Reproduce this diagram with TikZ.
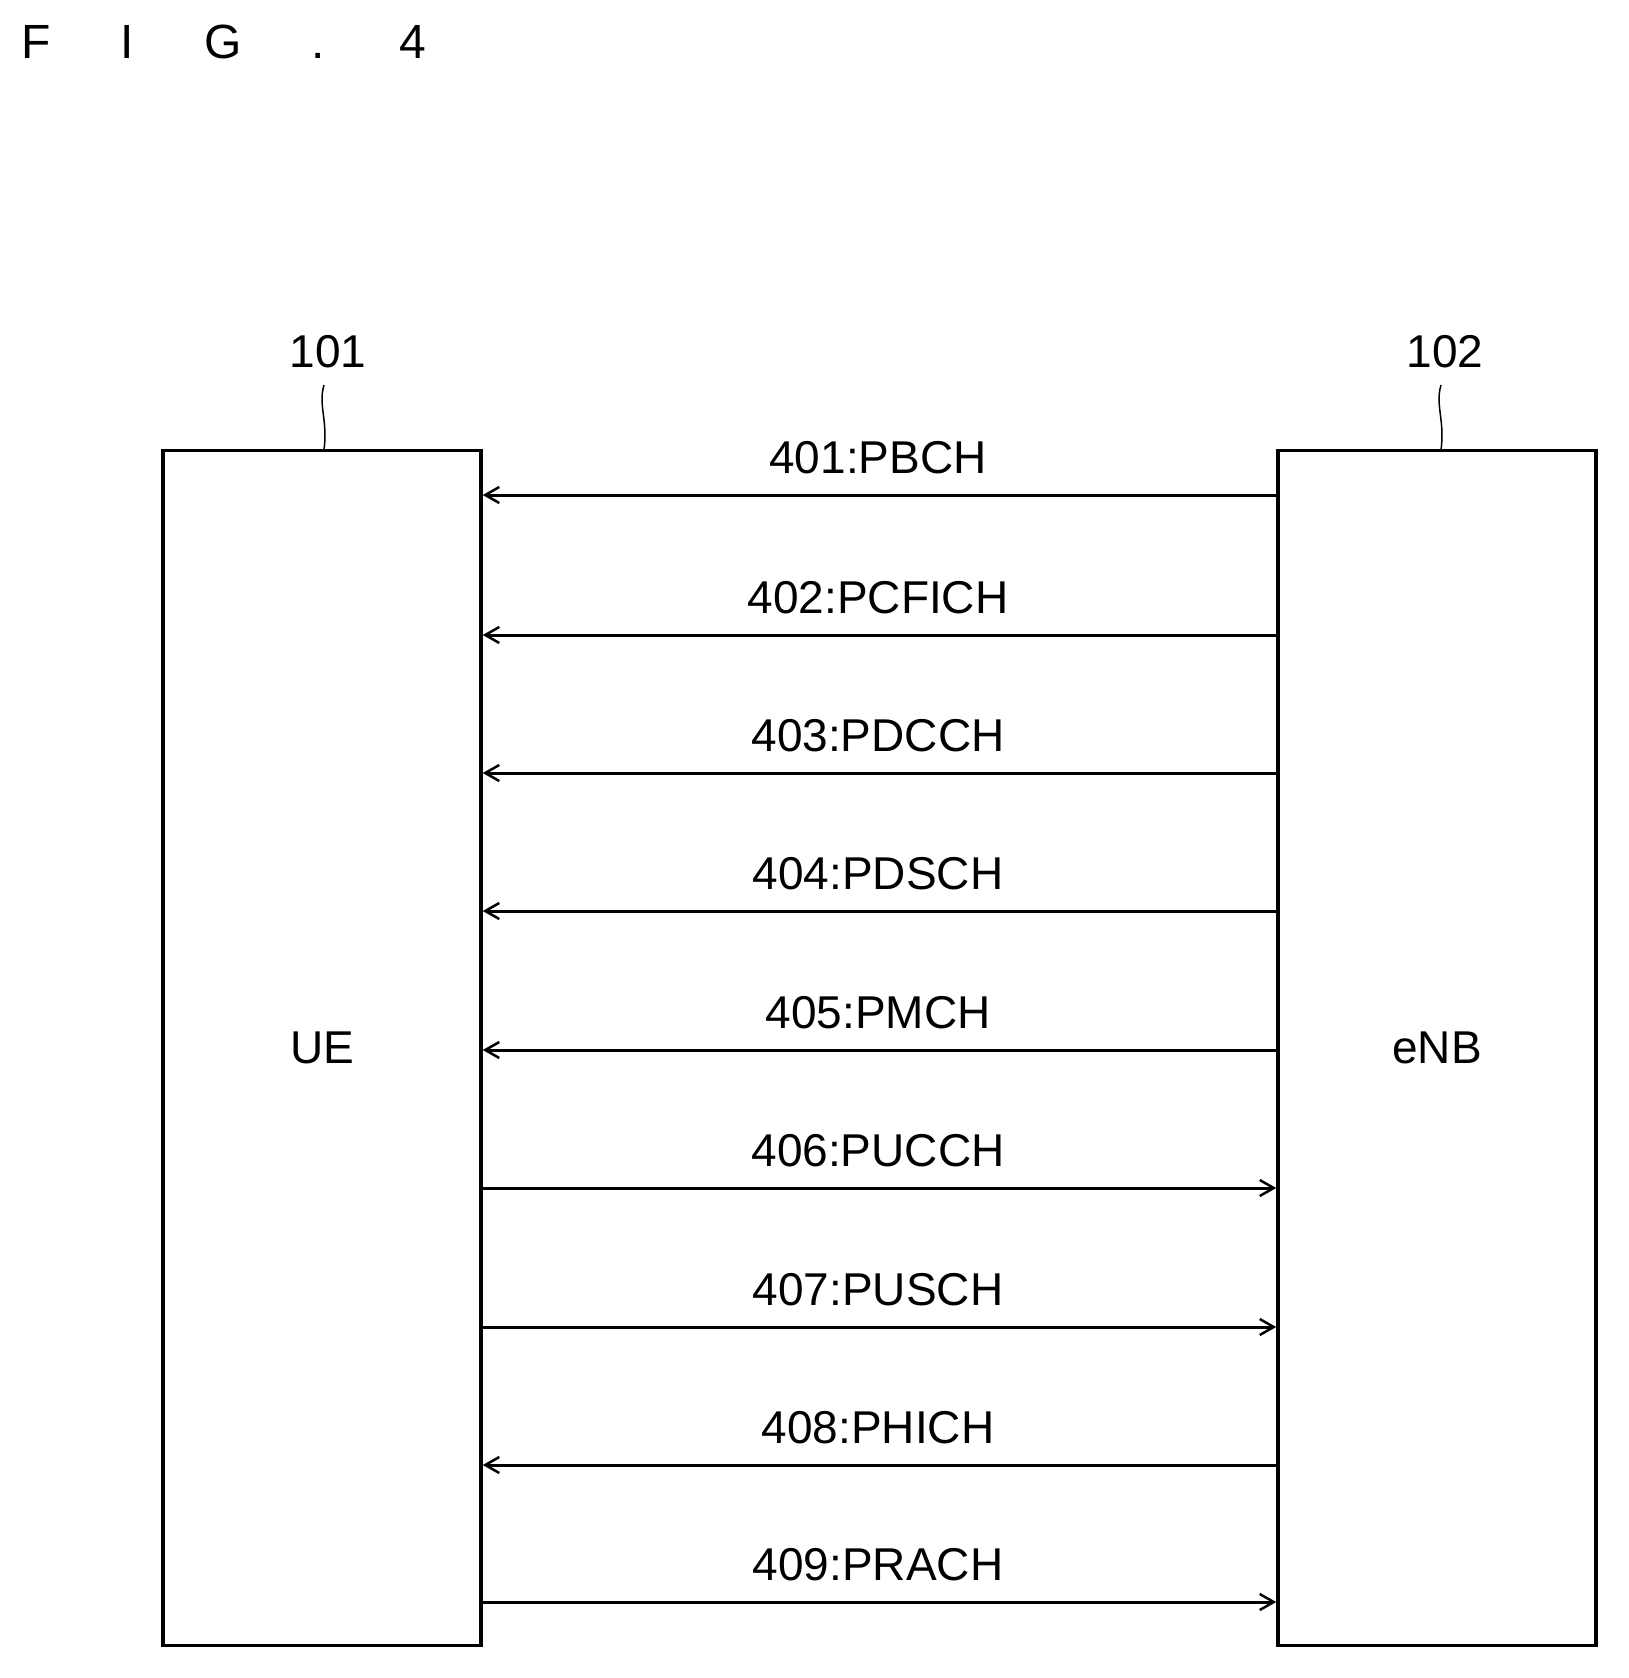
\documentclass[tikz,border=0pt]{standalone}
\usepackage{fontspec}
\setmainfont{Liberation Sans}
\usetikzlibrary{arrows.meta}
\tikzset{
  entity/.style={draw, line width=3.5pt, minimum width=318pt, minimum height=1195pt, inner sep=0pt},
  chan/.style={line width=3pt, -{Straight Barb[length=14pt,width=16pt,line width=2.5pt]}},
  lbl/.style={font=\fontsize{46}{50}\selectfont}
}
\begin{document}
\begin{tikzpicture}[x=1pt,y=-1pt]
  \useasboundingbox (0,0) rectangle (1629,1678);
  % titre
  \node[anchor=west, font=\fontsize{48}{50}\selectfont] (fig) at (18,42) {F\hspace{70pt}I\hspace{70pt}G\hspace{70pt}.\hspace{75pt}4};
  % les deux entites
  \node[entity] (ue) at (322,1048) {};
  \node[entity] (enb) at (1437,1048) {};
  \node[lbl] at (ue.center) {UE};
  \node[lbl] at (enb.center) {eNB};
  \node[lbl] (n101) at (328,352) {101};
  \node[lbl] (n102) at (1445,352) {102};
  \draw[line width=1.5pt] (324,385) .. controls (318,405) and (328,420) .. (324,450);
  \draw[line width=1.5pt] (1441,385) .. controls (1435,405) and (1445,420) .. (1441,450);
  % canaux
  \foreach \y/\t/\d in {495/401:PBCH/0, 635/402:PCFICH/0, 773/403:PDCCH/0, 911/404:PDSCH/0,
                        1050/405:PMCH/0, 1188/406:PUCCH/1, 1327/407:PUSCH/1, 1465/408:PHICH/0, 1602/409:PRACH/1}{
    \coordinate (l) at (ue.east |- 0,\y);
    \coordinate (r) at (enb.west |- 0,\y);
    \ifnum\d=1 \draw[chan] (l) -- (r); \else \draw[chan] (r) -- (l); \fi
    \node[lbl, above=2pt] at (878,\y-16) {\t};
  }
\end{tikzpicture}
\end{document}
